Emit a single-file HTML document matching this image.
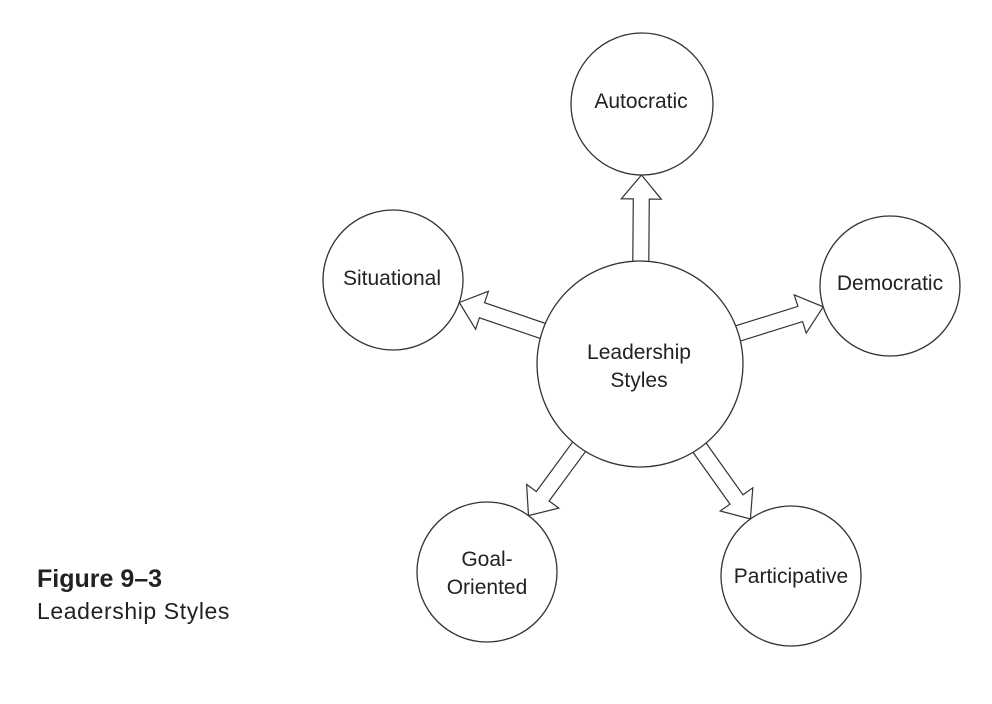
<!DOCTYPE html>
<html><head><meta charset="utf-8"><style>
html,body{margin:0;padding:0;background:#fff;}
svg{display:block;}
text{font-family:"Liberation Sans",sans-serif;fill:#222;}
</style></head><body>
<svg id="s" width="992" height="704" viewBox="0 0 992 704" xmlns="http://www.w3.org/2000/svg">
<g id="arrows" fill="#fff" stroke="#333" stroke-width="1.2"></g>
<g fill="#fff" stroke="#333" stroke-width="1.3">
<circle cx="640" cy="364" r="103"/>
<circle cx="642" cy="104" r="71"/>
<circle cx="393" cy="280" r="70"/>
<circle cx="890" cy="286" r="70"/>
<circle cx="487" cy="572" r="70"/>
<circle cx="791" cy="576" r="70"/>
</g>
<g font-size="21" text-anchor="middle">
<text x="641" y="108">Autocratic</text>
<text x="392" y="285">Situational</text>
<text x="890" y="290">Democratic</text>
<text x="639" y="359">Leadership</text>
<text x="639" y="387">Styles</text>
<text x="487" y="566">Goal-</text>
<text x="487" y="594">Oriented</text>
<text x="791" y="583">Participative</text>
</g>
<text x="37" y="587" font-size="25" font-weight="bold">Figure 9–3</text>
<text x="37" y="619" font-size="23" letter-spacing="0.6">Leadership Styles</text>
</svg>
<script>
var C=[640,364,103];
var outs=[[642,104,71],[393,280,70],[890,286,70],[487,572,70],[791,576,70]];
var g=document.getElementById('arrows');
outs.forEach(function(o){
 var dx=o[0]-C[0],dy=o[1]-C[1],d=Math.sqrt(dx*dx+dy*dy),ux=dx/d,uy=dy/d,px=-uy,py=ux;
 var s=C[2]-10,e=d-o[2],hl=24,sw=8,hw=20;
 function P(t,w){return (C[0]+ux*t+px*w).toFixed(1)+','+(C[1]+uy*t+py*w).toFixed(1);}
 var pts=[P(s,-sw),P(e-hl,-sw),P(e-hl,-hw),P(e,0),P(e-hl,hw),P(e-hl,sw),P(s,sw)].join(' ');
 var p=document.createElementNS('http://www.w3.org/2000/svg','polygon');
 p.setAttribute('points',pts);g.appendChild(p);
});
</script>
</body></html>
